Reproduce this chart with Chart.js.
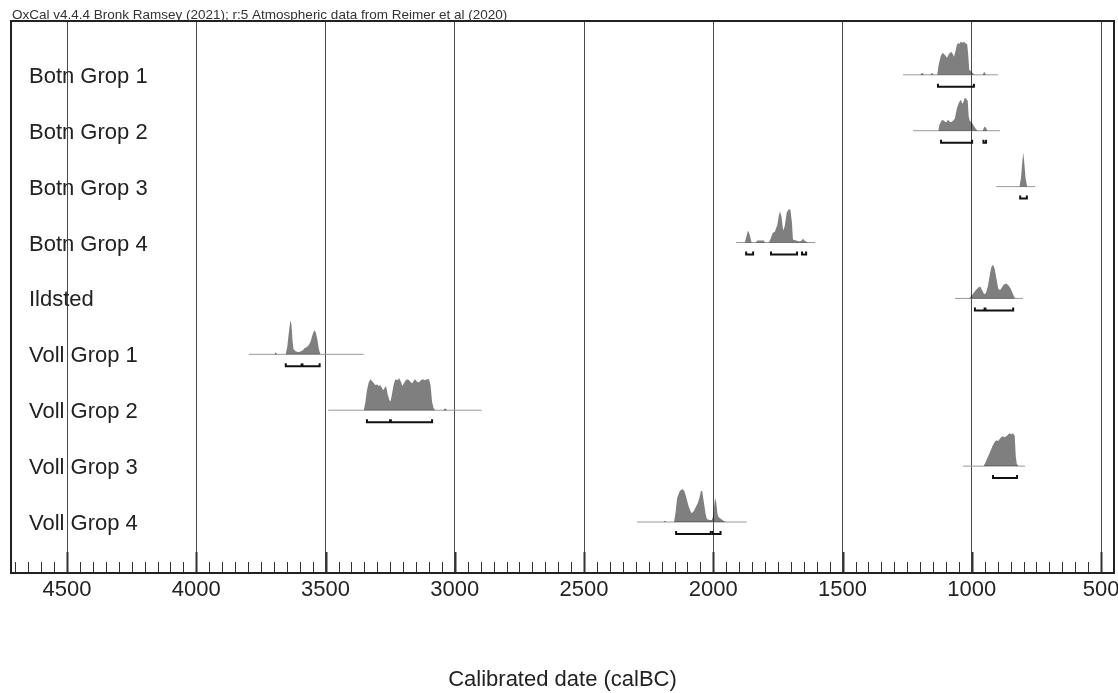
<!DOCTYPE html>
<html><head><meta charset="utf-8">
<script src="https://cdn.jsdelivr.net/npm/chart.js@4.4.1/dist/chart.umd.min.js"></script>
<style>html,body{margin:0;padding:0;background:#fff;overflow:hidden}canvas{display:block}</style>
</head><body>
<canvas id="c" width="1118" height="693"></canvas>
<script>
// ---------- DATA ----------
const header = 'OxCal v4.4.4 Bronk Ramsey (2021); r:5 Atmospheric data from Reimer et al (2020)';
const axisTitle = 'Calibrated date (calBC)';
const categories = ['Botn Grop 1','Botn Grop 2','Botn Grop 3','Botn Grop 4','Ildsted','Voll Grop 1','Voll Grop 2','Voll Grop 3','Voll Grop 4'];
const majorTicks = [4500, 4000, 3500, 3000, 2500, 2000, 1500, 1000, 500];
const minorStep = 50;
const axisMin = 450, axisMax = 4717;

// calibrated distributions: [calBC, relative probability]
const botnGrop1 = [[1200,0],[1192,0.06],[1185,0],[1160,0],[1154,0.06],[1148,0],
  [1134,0],[1128,0.3],[1120,0.55],[1113,0.65],[1104,0.58],[1096,0.5],[1088,0.62],[1080,0.68],[1074,0.62],[1069,0.53],
  [1063,0.7],[1058,0.88],[1053,0.94],[1048,0.91],[1043,0.97],[1036,0.94],[1030,0.97],[1024,0.92],[1018,0.91],
  [1014,0.6],[1010,0.15],[1005,0.12],[998,0.06],[990,0],[958,0],[952,0.09],[945,0]];
const botnGrop2 = [[1130,0],[1125,0.18],[1115,0.32],[1108,0.29],[1100,0.24],[1092,0.32],[1085,0.26],[1078,0.26],
  [1073,0.29],[1066,0.35],[1058,0.65],[1050,0.82],[1043,0.91],[1038,0.82],[1035,0.79],[1031,0.88],[1027,0.97],
  [1022,0.94],[1016,0.88],[1012,0.41],[1008,0.29],[1000,0.24],[993,0.15],[985,0.06],[978,0],
  [958,0],[952,0.12],[945,0.09],[940,0]];
const botnGrop3 = [[816,0],[810,0.24],[805,0.7],[801,1],[797,0.7],[792,0.24],[786,0]];
const botnGrop4 = [[1878,0],[1872,0.18],[1866,0.35],[1860,0.24],[1852,0],[1836,0],[1830,0.06],[1805,0.06],[1800,0],
  [1785,0],[1778,0.12],[1770,0.29],[1762,0.32],[1752,0.53],[1746,0.82],[1742,0.91],[1736,0.74],[1730,0.35],
  [1724,0.47],[1716,0.88],[1709,0.97],[1702,0.97],[1696,0.59],[1692,0.09],[1680,0.06],[1665,0.03],[1658,0.06],
  [1653,0.12],[1648,0.06],[1634,0]];
const ildsted = [[1010,0],[1000,0.09],[985,0.24],[975,0.32],[968,0.35],[960,0.24],[952,0.12],[946,0.15],[938,0.35],
  [930,0.71],[925,0.91],[918,1],[912,0.88],[905,0.59],[898,0.29],[891,0.24],[884,0.32],[876,0.41],[866,0.44],
  [858,0.38],[850,0.29],[842,0.15],[833,0]];
const vollGrop1 = [[3698,0],[3693,0.06],[3688,0],[3654,0],[3648,0.24],[3642,0.65],[3636,1],[3632,0.88],[3628,0.41],
  [3624,0.15],[3616,0.09],[3605,0.06],[3595,0.09],[3588,0.12],[3582,0.18],[3574,0.21],[3566,0.26],[3558,0.38],
  [3550,0.59],[3544,0.71],[3538,0.65],[3532,0.44],[3526,0.15],[3520,0]];
const vollGrop2 = [[3352,0],[3346,0.24],[3340,0.59],[3333,0.82],[3327,0.91],[3320,0.85],[3313,0.79],[3308,0.74],
  [3300,0.76],[3294,0.71],[3289,0.74],[3282,0.65],[3277,0.59],[3272,0.65],[3266,0.71],[3260,0.47],[3253,0.29],
  [3249,0.26],[3244,0.44],[3237,0.74],[3230,0.91],[3222,0.88],[3215,0.94],[3208,0.82],[3203,0.71],[3197,0.79],
  [3190,0.88],[3183,0.91],[3177,0.88],[3170,0.82],[3164,0.79],[3158,0.88],[3154,0.91],[3148,0.85],[3142,0.82],
  [3138,0.82],[3132,0.88],[3124,0.91],[3116,0.88],[3108,0.91],[3100,0.91],[3094,0.74],[3088,0.24],[3082,0.06],
  [3076,0],[3044,0],[3038,0.06],[3030,0]];
const vollGrop3 = [[955,0],[948,0.09],[940,0.24],[930,0.41],[920,0.59],[912,0.71],[905,0.76],[898,0.74],[890,0.82],
  [882,0.88],[872,0.85],[862,0.91],[855,0.97],[848,0.94],[840,0.97],[834,0.88],[830,0.29],[826,0.06],[820,0]];
const vollGrop4 = [[2192,0],[2187,0.04],[2182,0],[2152,0],[2146,0.29],[2140,0.71],[2130,0.91],[2120,0.97],[2112,0.91],
  [2104,0.71],[2096,0.47],[2088,0.32],[2084,0.26],[2076,0.32],[2068,0.44],[2060,0.56],[2054,0.71],[2048,0.91],
  [2043,0.91],[2038,0.65],[2030,0.24],[2025,0.09],[2015,0.06],[2006,0.06],[2000,0.18],[1996,0.53],[1993,0.71],
  [1989,0.59],[1984,0.24],[1980,0.15],[1970,0.09],[1960,0.03],[1951,0]];
const distributions = [botnGrop1, botnGrop2, botnGrop3, botnGrop4, ildsted, vollGrop1, vollGrop2, vollGrop3, vollGrop4];

// plotted range of each distribution (calBC)
const plotRanges = [[1266,899],[1227,891],[906,755],[1912,1606],[1065,802],[3797,3353],[3490,2896],[1034,794],[2295,1871]];
// highest posterior density ranges (calBC)
const hpdRanges = [[[1131,992]],[[1119,999],[955,945]],[[813,787]],[[1873,1846],[1777,1676],[1657,1641]],
  [[988,840]],[[3654,3523]],[[3340,3088]],[[918,825]],[[2144,2010],[2003,1972]]];
const medians = [null,null,null,null,949,3591,3249,null,null];

// ---------- LAYOUT CONSTANTS (row units) ----------
const PX_ROW = 55.9;
const Y_MAX = 552 / PX_ROW;
const BASE0 = 8.912;
const PEAK = 34 / PX_ROW;
const BR_OFF = 12 / PX_ROW;
const BR_TICK = 3 / PX_ROW;
const FONT = '"Liberation Sans", Arial, sans-serif';

const datasets = [];
categories.forEach((name, k) => {
  const b = BASE0 - k;
  datasets.push({
    label: name + ' range', order: 3,
    data: plotRanges[k].map(v => ({x: v, y: b})),
    borderColor: '#999', borderWidth: 1, pointRadius: 0, fill: false
  });
  datasets.push({
    label: name, order: 2,
    data: distributions[k].map(([x, p]) => ({x, y: b + p * PEAK})),
    borderColor: 'rgba(0,0,0,0)', borderWidth: 1, pointRadius: 0,
    backgroundColor: 'rgba(0,0,0,0.5)', fill: {value: b}, tension: 0
  });
  hpdRanges[k].forEach(([a, c]) => {
    const yb = b - BR_OFF;
    datasets.push({
      label: name + ' hpd', order: 1,
      data: [{x: a, y: yb + BR_TICK}, {x: a, y: yb}, {x: c, y: yb}, {x: c, y: yb + BR_TICK}],
      borderColor: '#111', borderWidth: 2, pointRadius: 0, fill: false
    });
  });
  if (medians[k] !== null) {
    datasets.push({
      label: name + ' median', order: 0,
      data: [{x: medians[k], y: b - BR_OFF + 1.5 / PX_ROW}],
      showLine: false, pointStyle: 'rect', pointRadius: 2, pointBackgroundColor: '#111',
      pointBorderColor: '#111', borderWidth: 0
    });
  }
});

const tickValues = [];
for (let v = majorTicks[majorTicks.length - 1]; v <= axisMax; v += minorStep) tickValues.push(v);

const decor = {
  id: 'decor',
  beforeDatasetsDraw(chart) {
    const {ctx, chartArea: a, scales: {y}} = chart;
    ctx.save();
    ctx.font = '22px ' + FONT;
    ctx.fillStyle = '#222';
    ctx.textBaseline = 'alphabetic';
    ctx.textAlign = 'left';
    categories.forEach((name, k) => {
      ctx.fillText(name, a.left + 18, y.getPixelForValue(BASE0 - k) + 8);
    });
    ctx.restore();
  },
  afterDraw(chart) {
    const {ctx, chartArea: a, scales: {x}} = chart;
    ctx.save();
    x.ticks.forEach(t => {
      const px = Math.round(x.getPixelForValue(t.value)) + 0.5;
      const major = majorTicks.includes(t.value);
      ctx.beginPath();
      ctx.lineWidth = major ? 2 : 1;
      ctx.strokeStyle = '#333';
      ctx.moveTo(px, a.bottom);
      ctx.lineTo(px, a.bottom - (major ? 21 : 11));
      ctx.stroke();
    });
    ctx.lineWidth = 2;
    ctx.strokeStyle = '#222';
    ctx.strokeRect(a.left, a.top, a.right - a.left, a.bottom - a.top);
    ctx.font = '13.5px ' + FONT;
    ctx.fillStyle = '#333';
    ctx.textAlign = 'left';
    ctx.textBaseline = 'alphabetic';
    ctx.fillText(header, a.left + 1, a.top - 2);
    ctx.restore();
  }
};

new Chart(document.getElementById('c'), {
  type: 'line',
  data: {datasets},
  options: {
    responsive: false, animation: false, devicePixelRatio: 1,
    layout: {padding: {left: 11, right: 4, top: 21, bottom: 0}, autoPadding: false},
    plugins: {legend: {display: false}, tooltip: {enabled: false}},
    scales: {
      x: {
        type: 'linear', reverse: true, min: axisMin, max: axisMax,
        afterBuildTicks: s => { s.ticks = tickValues.map(v => ({value: v})); },
        afterFit: s => { s.height = 120; },
        border: {display: false},
        grid: {
          drawTicks: false, lineWidth: 1,
          color: c => (c.tick && majorTicks.includes(c.tick.value)) ? '#4a4a4a' : 'rgba(0,0,0,0)'
        },
        ticks: {
          autoSkip: false, maxRotation: 0, minRotation: 0, padding: 4, color: '#222',
          font: {size: 22, family: FONT},
          callback: v => majorTicks.includes(v) ? String(v) : ''
        },
        title: {display: true, text: axisTitle, color: '#222', font: {size: 22, family: FONT}, padding: {top: 0, bottom: 0}}
      },
      y: {type: 'linear', min: 0, max: Y_MAX, display: false}
    }
  },
  plugins: [decor]
});
</script>
</body></html>
